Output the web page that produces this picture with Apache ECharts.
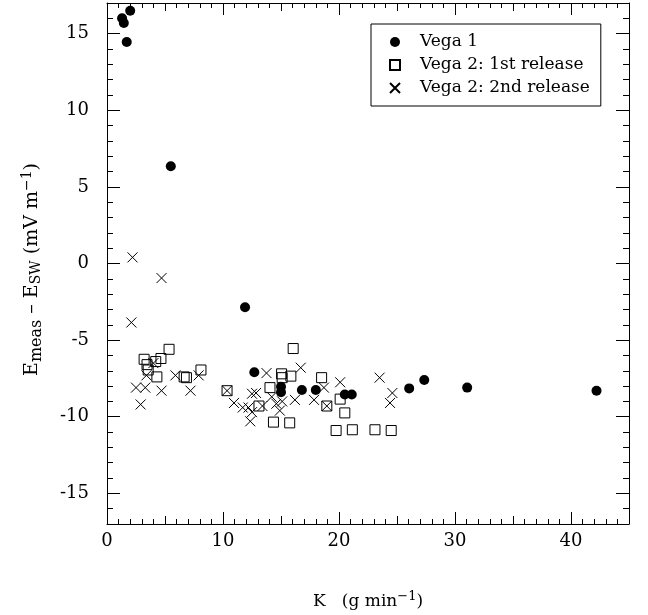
<!DOCTYPE html>
<html><head><meta charset="utf-8">
<script src="https://cdn.jsdelivr.net/npm/echarts@6/dist/echarts.min.js"></script>
<style>html,body{margin:0;padding:0;background:#fff}#chart{width:648px;height:615px}</style>
</head><body><div id="chart"></div>
<script>
// Vega 1 (filled circles)
const vega1K = [1.3, 1.45, 2.0, 1.7, 5.5, 11.9, 12.7, 15.0, 15.0, 16.8, 18.0, 20.5, 21.1, 26.05, 27.35, 31.05, 42.2];
const vega1E = [16.0, 15.7, 16.5, 14.45, 6.35, -2.85, -7.1, -8.05, -8.4, -8.25, -8.25, -8.55, -8.55, -8.15, -7.6, -8.1, -8.3];
// Vega 2: 1st release (open squares)
const vega2aK = [3.2, 3.45, 3.55, 4.2, 4.65, 5.35, 4.3, 6.65, 6.85, 8.1, 10.35, 13.1, 14.05, 14.35, 15.05, 15.1, 15.85, 15.75, 16.05, 18.5, 18.95, 20.1, 20.5, 19.75, 21.15, 23.1, 24.5];
const vega2aE = [-6.25, -6.6, -6.95, -6.4, -6.2, -5.6, -7.4, -7.4, -7.45, -6.95, -8.3, -9.3, -8.1, -10.35, -7.2, -7.45, -7.35, -10.4, -5.55, -7.45, -9.3, -8.85, -9.75, -10.9, -10.85, -10.85, -10.9];
// Vega 2: 2nd release (crosses)
const vega2bK = [2.2, 4.7, 2.1, 2.5, 3.3, 2.9, 3.4, 4.0, 4.7, 5.9, 7.2, 7.9, 10.35, 10.95, 11.7, 12.2, 12.5, 12.85, 12.5, 12.35, 13.4, 13.75, 14.2, 14.6, 14.9, 15.1, 16.2, 16.7, 17.85, 18.7, 18.95, 20.1, 23.5, 24.6, 24.4];
const vega2bE = [0.4, -0.95, -3.85, -8.1, -8.1, -9.2, -7.3, -6.5, -8.3, -7.3, -8.3, -7.3, -8.3, -9.1, -9.4, -9.4, -8.5, -8.45, -9.7, -10.3, -9.3, -7.15, -8.7, -9.15, -9.6, -9.0, -8.9, -6.8, -8.9, -8.1, -9.3, -7.75, -7.45, -8.45, -9.1];

const seriesNames = ['Vega 1', 'Vega 2: 1st release', 'Vega 2: 2nd release'];
const xMajorTicks = [0, 10, 20, 30, 40];
const xMidTicks = [5, 15, 25, 35];
const yMajorTicks = [-15, -10, -5, 0, 5, 10, 15];

const FONT = 'DejaVu Serif';
const BLACK = '#000';
const SQUARE = 'path://M0,0H10V10H0Z';
const CROSS = 'path://M0,0L10,10M10,0L0,10';
const zip = (a, b) => a.map((v, i) => [v, b[i]]);

function xAxisSet(pos, withLabels) {
  const common = { type: 'value', min: 0, max: 45, position: pos, offset: 0, splitLine: { show: false } };
  const base = Object.assign({}, common, {
    interval: 1,
    axisLine: { show: true, onZero: false, lineStyle: { color: BLACK, width: 1 } },
    axisTick: { show: true, inside: true, length: 5, lineStyle: { color: BLACK } },
    axisLabel: { show: false }
  });
  const major = Object.assign({}, common, {
    axisLine: { show: false, onZero: false },
    axisTick: { show: true, inside: true, length: 12, customValues: xMajorTicks, lineStyle: { color: BLACK } },
    axisLabel: withLabels ? { show: true, customValues: xMajorTicks, fontFamily: FONT, fontSize: 18, color: BLACK, margin: 8 } : { show: false }
  });
  const mid = Object.assign({}, common, {
    axisLine: { show: false, onZero: false },
    axisTick: { show: true, inside: true, length: 8, customValues: xMidTicks, lineStyle: { color: BLACK } },
    axisLabel: { show: false }
  });
  return [base, major, mid];
}
function yAxisSet(pos, withLabels) {
  const common = { type: 'value', min: -17, max: 17, position: pos, offset: 0, splitLine: { show: false } };
  const base = Object.assign({}, common, {
    interval: 1,
    axisLine: { show: true, onZero: false, lineStyle: { color: BLACK, width: 1 } },
    axisTick: { show: true, inside: true, length: 6, lineStyle: { color: BLACK } },
    axisLabel: { show: false }
  });
  const major = Object.assign({}, common, {
    axisLine: { show: false, onZero: false },
    axisTick: { show: true, inside: true, length: 13, customValues: yMajorTicks, lineStyle: { color: BLACK } },
    axisLabel: withLabels ? { show: true, customValues: yMajorTicks, fontFamily: FONT, fontSize: 18, color: BLACK, margin: 18 } : { show: false }
  });
  return [base, major];
}

const xAxes = xAxisSet('bottom', true).concat(xAxisSet('top', false));
xAxes[0].name = '{n|K   (g min}{p|\u22121}{n|)}';
xAxes[0].nameLocation = 'middle';
xAxes[0].nameGap = 66;
xAxes[0].nameTextStyle = {
  fontFamily: FONT, fontSize: 17, color: BLACK,
  rich: {
    n: { fontFamily: FONT, fontSize: 17, color: BLACK },
    p: { fontFamily: FONT, fontSize: 13, color: BLACK, padding: [0, 0, 10, 0] }
  }
};
const yAxes = yAxisSet('left', true).concat(yAxisSet('right', false));
yAxes[0].name = '{n|E}{m|meas}{n| \u2013 E}{s|SW}{n| (mV m}{p|\u22121}{n|)}';
yAxes[0].nameLocation = 'middle';
yAxes[0].nameRotate = 90;
yAxes[0].nameGap = 62;
yAxes[0].nameTextStyle = {
  fontFamily: FONT, fontSize: 19, color: BLACK, padding: [0, 12, 0, 0],
  rich: {
    n: { fontFamily: FONT, fontSize: 19, color: BLACK },
    m: { fontFamily: FONT, fontSize: 16, color: BLACK, padding: [8, 0, 0, 0] },
    s: { fontFamily: FONT, fontSize: 14, color: BLACK, padding: [8, 0, 0, 0] },
    p: { fontFamily: FONT, fontSize: 14, color: BLACK, padding: [0, 0, 11, 0] }
  }
};

const chart = echarts.init(document.getElementById('chart'), null, { renderer: 'canvas' });
chart.setOption({
  animation: false,
  backgroundColor: '#fff',
  grid: { left: 107, right: 19, top: 3, bottom: 91, containLabel: false },
  xAxis: xAxes,
  yAxis: yAxes,
  legend: {
    orient: 'vertical', left: 371, top: 24,
    padding: [8, 11, 8, 18], itemGap: 3, itemWidth: 40, itemHeight: 10,
    backgroundColor: '#fff', borderColor: BLACK, borderWidth: 1, borderRadius: 0,
    textStyle: { fontFamily: FONT, fontSize: 17, color: BLACK, lineHeight: 20 },
    data: [
      { name: seriesNames[0], icon: 'circle' },
      { name: seriesNames[1], icon: SQUARE },
      { name: seriesNames[2], icon: CROSS }
    ]
  },
  series: [
    { type: 'scatter', name: seriesNames[0], data: zip(vega1K, vega1E), symbol: 'circle', symbolSize: 10,
      itemStyle: { color: BLACK, opacity: 1 }, silent: true },
    { type: 'scatter', name: seriesNames[1], data: zip(vega2aK, vega2aE), symbol: SQUARE, symbolSize: 10,
      itemStyle: { color: 'rgba(0,0,0,0)', borderColor: BLACK, borderWidth: 1, opacity: 1 }, silent: true },
    { type: 'scatter', name: seriesNames[2], data: zip(vega2bK, vega2bE), symbol: CROSS, symbolSize: 10,
      itemStyle: { color: 'rgba(0,0,0,0)', borderColor: BLACK, borderWidth: 1, opacity: 1 }, silent: true }
  ]
});
</script>
</body></html>
